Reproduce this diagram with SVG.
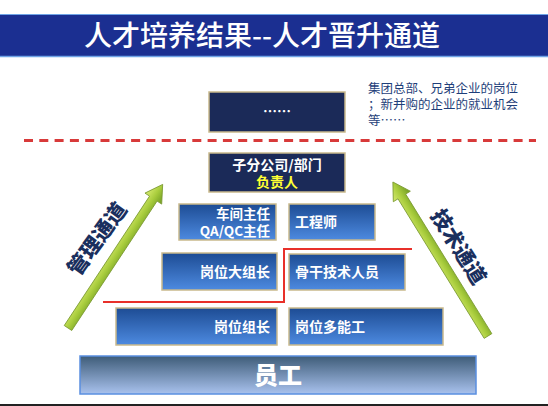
<svg xmlns="http://www.w3.org/2000/svg" width="548" height="406" viewBox="0 0 548 406">
<defs>
<linearGradient id="gBlue" x1="0" y1="0" x2="0" y2="1">
<stop offset="0" stop-color="#1d4c94"/>
<stop offset="1" stop-color="#4d8ae0"/>
</linearGradient>
<linearGradient id="gStaff" x1="0" y1="0" x2="0" y2="1">
<stop offset="0" stop-color="#3e5c78"/>
<stop offset="1" stop-color="#a9c2ee"/>
</linearGradient>
<linearGradient id="gArrow" x1="0" y1="0" x2="0" y2="1">
<stop offset="0" stop-color="#d8ec70"/>
<stop offset="0.5" stop-color="#a8cc3c"/>
<stop offset="1" stop-color="#6e9a22"/>
</linearGradient>
<style>
.title{font-family:"Noto Sans CJK SC","Liberation Sans",sans-serif;font-size:28px;fill:#ffffff;font-weight:500}
.dark{fill:#1b2a58;stroke:#c9b98c;stroke-width:1.5}
.blue{fill:url(#gBlue);stroke:#c9b98c;stroke-width:1.5}
.bt{font-family:"Noto Sans CJK SC","Liberation Sans",sans-serif;font-size:14px;font-weight:700;fill:#ffffff}
.note{font-family:"Noto Sans CJK SC","Liberation Sans",sans-serif;font-size:12.5px;fill:#1f3f7a}
.lab{font-family:"Noto Sans CJK SC","Liberation Sans",sans-serif;font-size:21px;font-weight:900;fill:#1a2f5e}
.arrow{fill:url(#gArrow);stroke:#7a9a30;stroke-width:0.8}
</style>
</defs>
<rect x="0" y="0" width="548" height="406" fill="#ffffff"/>
<g id="title">
<rect x="0" y="14" width="548" height="43" fill="#1b2f91"/>
<line x1="0" y1="14.5" x2="548" y2="14.5" stroke="#6fa4e6" stroke-width="1"/>
<line x1="0" y1="56.5" x2="548" y2="56.5" stroke="#6fa4e6" stroke-width="1.5"/>
<text class="title" x="262" y="46" text-anchor="middle">人才培养结果--人才晋升通道</text>
</g>
<g id="connectors">
<line x1="24" y1="140.5" x2="536" y2="140.5" stroke="#d83a3a" stroke-width="3" stroke-dasharray="9,6.3"/>
<polyline points="103,302 284,302 284,249 412,249" fill="none" stroke="#e8302a" stroke-width="2"/>
</g>
<g id="arrow-left" transform="translate(68,328) rotate(-56.6)">
<polygon class="arrow" points="0,-4.5 155,-4.5 155,-10 172,0 155,10 155,4.5 0,4.5"/>
</g>
<g id="arrow-right" transform="translate(488,336) rotate(-121.7)">
<polygon class="arrow" points="0,-4.5 164,-4.5 164,-10 181,0 164,10 164,4.5 0,4.5"/>
</g>
<g id="label-mgmt">
<text class="lab" x="0" y="0" text-anchor="middle" dominant-baseline="central" transform="translate(96,238) rotate(-54)">管理通道</text>
</g>
<g id="label-tech">
<text class="lab" x="0" y="0" text-anchor="middle" dominant-baseline="central" transform="translate(460,246) rotate(58)">技术通道</text>
</g>
<g id="node-top">
<rect class="dark" x="209" y="92" width="136" height="40"/>
<text class="bt" x="277" y="116" text-anchor="middle" font-size="11">……</text>
</g>
<g id="note">
<text class="note" x="368" y="93">集团总部、兄弟企业的岗位</text>
<text class="note" x="368" y="109">；新并购的企业的就业机会</text>
<text class="note" x="368" y="125">等……</text>
</g>
<g id="node-head">
<rect class="dark" x="209" y="153" width="136" height="39"/>
<text class="bt" x="277" y="170" text-anchor="middle">子分公司/部门</text>
<text class="bt" x="277" y="187" text-anchor="middle" style="fill:#ffff33">负责人</text>
</g>
<g id="node-workshop">
<rect class="blue" x="179" y="204" width="97" height="36"/>
<text class="bt" x="270" y="219" text-anchor="end" style="font-size:13.5px">车间主任</text>
<text class="bt" x="270" y="236" text-anchor="end" style="font-size:13.5px">QA/QC主任</text>
</g>
<g id="node-engineer">
<rect class="blue" x="289" y="204" width="86" height="36"/>
<text class="bt" x="295" y="227">工程师</text>
</g>
<g id="node-bigleader">
<rect class="blue" x="162" y="253" width="115" height="37"/>
<text class="bt" x="270" y="277" text-anchor="end">岗位大组长</text>
</g>
<g id="node-keytech">
<rect class="blue" x="289" y="254" width="116" height="36"/>
<text class="bt" x="295" y="277">骨干技术人员</text>
</g>
<g id="node-leader">
<rect class="blue" x="116" y="308" width="161" height="37"/>
<text class="bt" x="270" y="332" text-anchor="end">岗位组长</text>
</g>
<g id="node-multi">
<rect class="blue" x="289" y="308" width="154" height="37"/>
<text class="bt" x="295" y="332">岗位多能工</text>
</g>
<g id="node-staff">
<rect x="80" y="356" width="396" height="38" fill="url(#gStaff)" stroke="#5a8fe0" stroke-width="1.5"/>
<text class="bt" x="278" y="384" text-anchor="middle" style="font-size:24px;font-weight:900">员工</text>
</g>
<line x1="0" y1="405" x2="548" y2="405" stroke="#222222" stroke-width="2"/>
</svg>
